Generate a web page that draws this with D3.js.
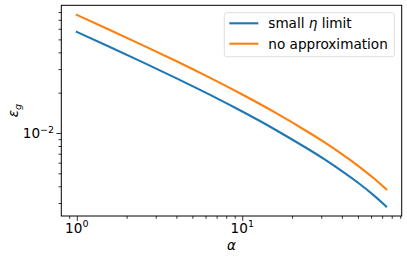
<!DOCTYPE html>
<html>
<head>
<meta charset="utf-8">
<script src="https://cdn.jsdelivr.net/npm/d3@7"></script>
<style>
  html, body { margin: 0; padding: 0; background: #fff; }
  svg { display: block; font-family: "DejaVu Sans", sans-serif; }
</style>
</head>
<body>
<svg id="chart" width="407" height="259"></svg>
<script>
// values (log-log)
const alpha    = [1, 1.585, 2.512, 3.981, 6.31, 10, 15.85, 25.12, 31.62, 39.81, 50.12, 63.1, 74.1];
const smallEta = [0.0569, 0.04385, 0.03366, 0.02571, 0.01941, 0.01446, 0.01058, 0.00756,
                  0.00632, 0.00522, 0.00425, 0.00338, 0.00283];
const noApprox = [0.0762, 0.05876, 0.0451, 0.03445, 0.02601, 0.01938, 0.01418, 0.01013,
                  0.00847, 0.00699, 0.00569, 0.00453, 0.0038];
const seriesNames  = ["small η limit", "no approximation"];
const seriesColors = ["#1f77b4", "#ff7f0e"];
const xMajor = [1, 10];
const yMajor = [0.01];

const W = 407, H = 259;
const M = { left: 61.3, right: 5.3, top: 5.3, bottom: 43 };
const FS = 13.6;

// matplotlib style 5% margins in log space
function logPad(lo, hi) {
    const a = Math.log10(lo), b = Math.log10(hi), p = 0.05 * (b - a);
    return [Math.pow(10, a - p), Math.pow(10, b + p)];
}

const x = d3.scaleLog()
    .domain(logPad(d3.min(alpha), d3.max(alpha)))
    .range([M.left, W - M.right]);
const y = d3.scaleLog()
    .domain(logPad(d3.min(smallEta), d3.max(noApprox)))
    .range([H - M.bottom, M.top]);

const svg = d3.select("#chart");
const plotB = H - M.bottom;

// ── Lines ─────────────────────────────────────────────
const line = d3.line()
    .x(d => x(d[0])).y(d => y(d[1]))
    .curve(d3.curveNatural);

[smallEta, noApprox].forEach((vals, i) => {
    svg.append("path")
        .datum(alpha.map((a, j) => [a, vals[j]]))
        .attr("fill", "none")
        .attr("stroke", seriesColors[i])
        .attr("stroke-width", 2.1)
        .attr("stroke-linecap", "square")
        .attr("d", line);
});

// ── Axes ──────────────────────────────────────────────
const xMinor = x.ticks().filter(v => !xMajor.some(m => Math.abs(m - v) < 1e-9));
const yMinor = y.ticks().filter(v => !yMajor.some(m => Math.abs(m - v) < 1e-12));

function styleAxis(g) {
    g.select(".domain").remove();
    g.selectAll("line").attr("stroke", "#000").attr("stroke-width", 0.8);
}

svg.append("g").attr("transform", `translate(0,${plotB})`)
    .call(d3.axisBottom(x).tickValues(xMinor).tickSize(2.8).tickFormat(""))
    .call(styleAxis);
svg.append("g").attr("transform", `translate(0,${plotB})`)
    .call(d3.axisBottom(x).tickValues(xMajor).tickSize(4.9).tickFormat(""))
    .call(styleAxis);
svg.append("g").attr("transform", `translate(${M.left},0)`)
    .call(d3.axisLeft(y).tickValues(yMinor).tickSize(2.8).tickFormat(""))
    .call(styleAxis);
svg.append("g").attr("transform", `translate(${M.left},0)`)
    .call(d3.axisLeft(y).tickValues(yMajor).tickSize(4.9).tickFormat(""))
    .call(styleAxis);

// tick labels 10^n
function powLabel(sel, v) {
    const e = Math.round(Math.log10(v));
    sel.append("tspan").text("10");
    sel.append("tspan").attr("font-size", FS * 0.7).attr("dy", -5.6)
        .text(e < 0 ? "\u2212" + (-e) : e);
}

xMajor.forEach(v => {
    svg.append("text")
        .attr("x", x(v)).attr("y", plotB + 16.6)
        .attr("text-anchor", "middle").attr("font-size", FS).attr("fill", "#000")
        .call(powLabel, v);
});
yMajor.forEach(v => {
    svg.append("text")
        .attr("x", M.left - 7.2).attr("y", y(v) + 5.2)
        .attr("text-anchor", "end").attr("font-size", FS).attr("fill", "#000")
        .call(powLabel, v);
});

// spines
svg.append("rect")
    .attr("x", M.left).attr("y", M.top)
    .attr("width", W - M.left - M.right).attr("height", plotB - M.top)
    .attr("fill", "none").attr("stroke", "#000").attr("stroke-width", 1);

// axis labels
svg.append("text")
    .attr("x", (M.left + W - M.right) / 2).attr("y", 250)
    .attr("text-anchor", "middle").attr("font-size", FS).attr("font-style", "italic")
    .text("α");

const yl = svg.append("text")
    .attr("transform", `translate(18,${(M.top + plotB) / 2}) rotate(-90)`)
    .attr("text-anchor", "middle").attr("font-size", FS).attr("font-style", "italic");
yl.append("tspan").text("ε");
yl.append("tspan").attr("font-size", FS * 0.7).attr("dy", 2.8).text("g");

// ── Legend ────────────────────────────────────────────
const lg = svg.append("g").attr("transform", "translate(224.3,12.7)");
lg.append("rect")
    .attr("width", 170).attr("height", 44).attr("rx", 2.5)
    .attr("fill", "#fff").attr("fill-opacity", 0.8)
    .attr("stroke", "#d6d6d6").attr("stroke-width", 0.8);

seriesNames.forEach((name, i) => {
    const cy = 10.6 + i * 20.4;
    lg.append("line")
        .attr("x1", 5).attr("x2", 34).attr("y1", cy).attr("y2", cy)
        .attr("stroke", seriesColors[i]).attr("stroke-width", 2.1);
    const t = lg.append("text")
        .attr("x", 44).attr("y", cy + 5).attr("font-size", FS).attr("fill", "#000");
    if (name.includes("η")) {
        const parts = name.split("η");
        t.append("tspan").text(parts[0]);
        t.append("tspan").attr("font-style", "italic").text("η");
        t.append("tspan").text(parts[1]);
    } else {
        t.text(name);
    }
});
</script>
</body>
</html>
